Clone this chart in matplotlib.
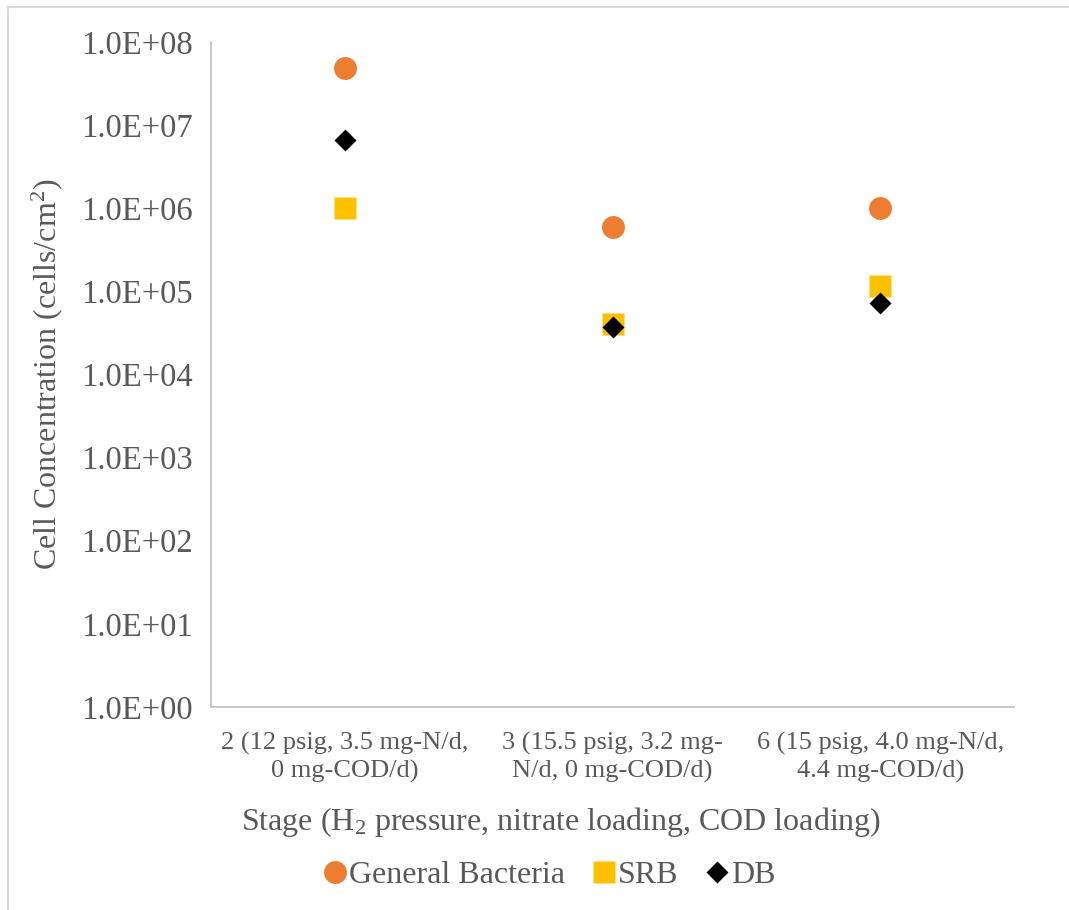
import matplotlib.pyplot as plt
from matplotlib.lines import Line2D
from matplotlib.ticker import FixedLocator, FuncFormatter, NullLocator

# data
stages = ['2 (12 psig, 3.5 mg-N/d,\n0 mg-COD/d)',
          '3 (15.5 psig, 3.2 mg-\nN/d, 0 mg-COD/d)',
          '6 (15 psig, 4.0 mg-N/d,\n4.4 mg-COD/d)']
general_bacteria = [4.9e7, 5.9e5, 1.0e6]
srb = [1.0e6, 4.1e4, 1.17e5]
db = [6.6e6, 3.7e4, 7.2e4]
decades = list(range(0, 9))

text_col = '#595959'
plt.rcParams['font.family'] = ['Liberation Serif', 'DejaVu Serif']
plt.rcParams['mathtext.fontset'] = 'custom'
plt.rcParams['mathtext.rm'] = 'Liberation Serif'
plt.rcParams['mathtext.it'] = 'Liberation Serif:italic'

fig = plt.figure(figsize=(10.69, 9.10), dpi=100)
ax = fig.add_axes([211 / 1069, 1 - 707 / 910, 803 / 1069, 665 / 910])

x = list(range(len(stages)))
ax.plot(x, general_bacteria, 'o', color='#ED7D31', ms=16.5, mec='none', label='General Bacteria')
ax.plot(x, srb, 's', color='#FFC000', ms=15.5, mec='none', label='SRB')
ax.plot(x, db, 'D', color='black', ms=11.5, mec='none', label='DB')

ax.set_yscale('log')
ax.set_ylim(1, 1e8)
ax.set_xlim(-0.5, 2.5)
ax.yaxis.set_major_locator(FixedLocator([10.0 ** d for d in decades]))
ax.yaxis.set_minor_locator(NullLocator())
ax.yaxis.set_major_formatter(FuncFormatter(lambda v, p: f'{v:.1E}'))
ax.set_xticks(x)
ax.set_xticklabels(stages, fontsize=19, color=text_col, linespacing=1.3)
ax.tick_params(axis='y', length=0, pad=13, labelsize=23.5, labelcolor=text_col)
ax.tick_params(axis='x', length=0, pad=18)

for s in ['top', 'right']:
    ax.spines[s].set_visible(False)
for s in ['left', 'bottom']:
    ax.spines[s].set_color('#BFBFBF')
    ax.spines[s].set_linewidth(1.2)

ax.set_ylabel('Cell Concentration (cells/cm$^2$)', fontsize=23, color=text_col, labelpad=12)
ax.set_xlabel('Stage (H$_2$ pressure, nitrate loading, COD loading)', fontsize=23,
              color=text_col)
ax.xaxis.set_label_coords((561 - 211) / 803, -0.148)

leg = fig.legend(loc='center', bbox_to_anchor=(0.5135, 1 - 875 / 910), ncol=3, frameon=False,
                 fontsize=23, handlelength=0.8, handletextpad=0.05, columnspacing=0.8,
                 numpoints=1)
for t in leg.get_texts():
    t.set_color(text_col)

# light frame of the chart area
fig.add_artist(Line2D([8 / 1069, 8 / 1069], [0, 1 - 7 / 910], color='#D9D9D9', lw=1.5))
fig.add_artist(Line2D([8 / 1069, 1], [1 - 7 / 910, 1 - 7 / 910], color='#D9D9D9', lw=1.5))

fig.savefig('out.png', dpi=100)
